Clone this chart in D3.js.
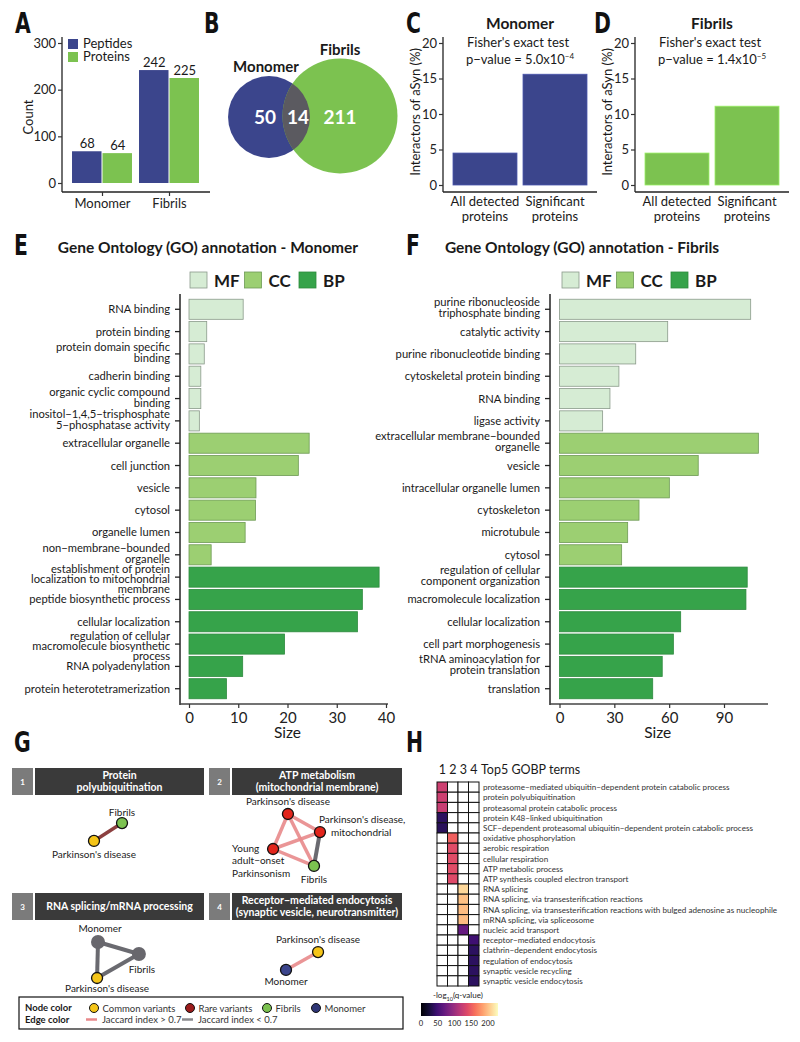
<!DOCTYPE html>
<html><head><meta charset="utf-8">
<script src="https://cdn.jsdelivr.net/npm/d3@7"></script>
<style>body{margin:0;background:#fff}svg{display:block}</style>
</head><body><svg id="c" width="800" height="1042"></svg>
<script>
// ---------------- DATA ----------------
const countCategories = ["Monomer", "Fibrils"];
const countSeries = ["Peptides", "Proteins"];
const peptideCounts = [68, 242];
const proteinCounts = [64, 225];
const countTicks = [0, 100, 200, 300];

const vennSets = ["Monomer", "Fibrils"];
const vennSetTotals = [64, 225];
const vennRegionCounts = [50, 14, 211]; // monomer only, shared, fibrils only

const interactorCategories = [["All detected", "proteins"], ["Significant", "proteins"]];
const monomerInteractorPct = [4.5, 15.6];
const fibrilInteractorPct = [4.5, 11.1];
const interactorTicks = [0, 5, 10, 15, 20];
const monomerPvalue = ["5.0", "−4"];
const fibrilPvalue = ["1.4", "−5"];

const goTypes = ["MF", "CC", "BP"];
const goMonomerTerms = ["RNA binding", "protein binding", "protein domain specific\nbinding", "cadherin binding",
  "organic cyclic compound\nbinding", "inositol−1,4,5−trisphosphate\n5−phosphatase activity",
  "extracellular organelle", "cell junction", "vesicle", "cytosol", "organelle lumen",
  "non−membrane−bounded\norganelle", "establishment of protein\nlocalization to mitochondrial\nmembrane",
  "peptide biosynthetic process", "cellular localization",
  "regulation of cellular\nmacromolecule biosynthetic\nprocess", "RNA polyadenylation", "protein heterotetramerization"];
const goMonomerTypes = ["MF","MF","MF","MF","MF","MF","CC","CC","CC","CC","CC","CC","BP","BP","BP","BP","BP","BP"];
const goMonomerSizes = [11.0, 3.6, 3.1, 2.4, 2.4, 2.1, 24.4, 22.2, 13.6, 13.5, 11.4, 4.5, 38.6, 35.2, 34.2, 19.4, 10.9, 7.6];
const goMonomerTicks = [0, 10, 20, 30, 40];

const goFibrilTerms = ["purine ribonucleoside\ntriphosphate binding", "catalytic activity", "purine ribonucleotide binding",
  "cytoskeletal protein binding", "RNA binding", "ligase activity", "extracellular membrane−bounded\norganelle",
  "vesicle", "intracellular organelle lumen", "cytoskeleton", "microtubule", "cytosol",
  "regulation of cellular\ncomponent organization", "macromolecule localization", "cellular localization",
  "cell part morphogenesis", "tRNA aminoacylation for\nprotein translation", "translation"];
const goFibrilTypes = ["MF","MF","MF","MF","MF","MF","CC","CC","CC","CC","CC","CC","BP","BP","BP","BP","BP","BP"];
const goFibrilSizes = [104.6, 59.2, 41.7, 32.5, 27.6, 23.6, 108.8, 75.9, 60.1, 43.5, 37.3, 34.0, 102.7, 102.0, 66.3, 62.3, 56.2, 51.0];
const goFibrilTicks = [0, 30, 60, 90];

// Network clusters (G)
const clusterTitles = [["Protein", "polyubiquitination"], ["ATP metabolism", "(mitochondrial membrane)"],
  ["RNA splicing/mRNA processing"], ["Receptor−mediated endocytosis", "(synaptic vesicle, neurotransmitter)"]];
const clusterIds = ["1", "2", "3", "4"];
const net1Nodes = ["Fibrils", "Parkinson's disease"];
const net1Types = ["fibrils", "common"];
const net1Edges = [[0, 1, "dark"]];
const net2Nodes = ["Parkinson's disease", "Parkinson's disease,\nmitochondrial", "Young\nadult−onset\nParkinsonism", "Fibrils"];
const net2Types = ["rare", "rare", "rare", "fibrils"];
const net2Edges = [[0, 1, "high"], [0, 2, "high"], [0, 3, "high"], [2, 1, "high"], [2, 3, "high"], [1, 3, "low"]];
const net3Nodes = ["Monomer", "Fibrils", "Parkinson's disease"];
const net3Types = ["grey", "grey", "common"];
const net3Edges = [[0, 1, "low"], [1, 2, "low"], [0, 2, "low"]];
const net4Nodes = ["Parkinson's disease", "Monomer"];
const net4Types = ["common", "monomer"];
const net4Edges = [[0, 1, "high"]];
const legendNodeTypes = ["Common variants", "Rare variants", "Fibrils", "Monomer"];
const legendEdgeTypes = ["Jaccard index > 0.7", "Jaccard index < 0.7"];

// Heatmap (H)
const heatColumns = [1, 2, 3, 4];
const heatTerms = ["proteasome−mediated ubiquitin−dependent protein catabolic process", "protein polyubiquitination",
  "proteasomal protein catabolic process", "protein K48−linked ubiquitination",
  "SCF−dependent proteasomal ubiquitin−dependent protein catabolic process", "oxidative phosphorylation",
  "aerobic respiration", "cellular respiration", "ATP metabolic process", "ATP synthesis coupled electron transport",
  "RNA splicing", "RNA splicing, via transesterification reactions",
  "RNA splicing, via transesterification reactions with bulged adenosine as nucleophile",
  "mRNA splicing, via spliceosome", "nucleic acid transport", "receptor−mediated endocytosis",
  "clathrin−dependent endocytosis", "regulation of endocytosis", "synaptic vesicle recycling", "synaptic vesicle endocytosis"];
const heatTermCluster = [1,1,1,1,1,2,2,2,2,2,3,3,3,3,3,4,4,4,4,4];
const heatValues = [128,128,125,38,36,152,140,140,140,138,212,200,198,198,70,48,38,38,38,38];
const heatTicks = [0, 50, 100, 150, 200];

// ---------------- LAYOUT / STYLE ----------------
const FONT = "Lato, 'Open Sans', sans-serif";
const LETTER_FONT = "'DejaVu Sans Condensed', 'DejaVu Sans', sans-serif";
const NAVY = "#3b458c", GREEN = "#7cc250";
const goFill = {MF: "#d6ecd4", CC: "#9ccf72", BP: "#36a34a"};
const goStroke = {MF: "#8a9a8a", CC: "#6e9a55", BP: "#2d8a3e"};

const svg = d3.select("#c").attr("font-family", FONT);

function letter(t, x, y) {
  svg.append("text").attr("transform", `translate(${x},${y}) scale(0.78,1)`)
    .attr("font-family", LETTER_FONT).attr("font-weight", "bold").attr("font-size", 29).attr("fill", "#111").text(t);
}
function txt(g, x, y, s, size, opts = {}) {
  const t = g.append("text").attr("x", x).attr("y", y).attr("font-size", size).attr("fill", opts.fill || "#1a1a1a")
    .attr("text-anchor", opts.anchor || "start").text(s);
  if (opts.bold) t.attr("font-weight", "bold");
  return t;
}
function styleAxis(g, size) {
  g.select(".domain").remove();
  g.selectAll(".tick line").attr("stroke", "#333").attr("stroke-width", 1.2);
  g.selectAll(".tick text").attr("font-size", size).attr("fill", "#222").attr("font-family", FONT);
}

// ---------------- A ----------------
letter("A", 15, 33);
{
  const g = svg.append("g");
  const y = d3.scaleLinear().domain([0, 300]).range([183, 43]);
  const x = d3.scaleBand().domain(countCategories).range([69, 203]).paddingInner(0.09).paddingOuter(0.045);
  const xs = d3.scaleBand().domain(countSeries).range([0, x.bandwidth()]);
  const col = d3.scaleOrdinal().domain(countSeries).range([NAVY, GREEN]);
  countCategories.forEach((c, i) => {
    [peptideCounts[i], proteinCounts[i]].forEach((v, j) => {
      const s = countSeries[j];
      g.append("rect").attr("x", x(c) + xs(s)).attr("y", y(v)).attr("width", xs.bandwidth() - 1)
        .attr("height", y(0) - y(v)).attr("fill", col(s));
      txt(g, x(c) + xs(s) + xs.bandwidth() / 2, y(v) - 3, v, 13, {anchor: "middle"});
    });
  });
  g.append("line").attr("x1", 62).attr("x2", 62).attr("y1", 37).attr("y2", 192).attr("stroke", "#222").attr("stroke-width", 1.3);
  g.append("line").attr("x1", 62).attr("x2", 210).attr("y1", 192).attr("y2", 192).attr("stroke", "#222").attr("stroke-width", 1.3);
  g.append("g").attr("transform", "translate(62,0)").call(d3.axisLeft(y).tickValues(countTicks).tickSize(4).tickPadding(2)).call(a => styleAxis(a, 13));
  g.append("g").attr("transform", "translate(0,192)").call(d3.axisBottom(x).tickSize(4).tickPadding(3)).call(a => styleAxis(a, 13));
  txt(g, 0, 0, "Count", 13, {anchor: "middle"}).attr("transform", "translate(33,117) rotate(-90)");
  countSeries.forEach((s, i) => {
    g.append("rect").attr("x", 68).attr("y", 39 + i * 13).attr("width", 10).attr("height", 10).attr("fill", col(s));
    txt(g, 83, 48 + i * 13, s, 13);
  });
}

// ---------------- B ----------------
letter("B", 204, 33);
{
  const g = svg.append("g");
  const r = d3.scalePow().exponent(0.27).domain([0, d3.max(vennSetTotals)]).range([0, 57.5]);
  const cx = [269, 340], cy = [117, 116];
  const rs = vennSetTotals.map(r);
  g.append("circle").attr("cx", cx[0]).attr("cy", cy[0]).attr("r", rs[0]).attr("fill", NAVY);
  g.append("circle").attr("cx", cx[1]).attr("cy", cy[1]).attr("r", rs[1]).attr("fill", GREEN);
  svg.append("clipPath").attr("id", "mclip").append("circle").attr("cx", cx[0]).attr("cy", cy[0]).attr("r", rs[0]);
  g.append("circle").attr("cx", cx[1]).attr("cy", cy[1]).attr("r", rs[1]).attr("fill", "#5b5a60").attr("clip-path", "url(#mclip)");
  txt(g, 266, 72, vennSets[0], 15, {anchor: "middle", bold: true});
  txt(g, 340, 55, vennSets[1], 15, {anchor: "middle", bold: true});
  const lx = [265, 298, 340];
  vennRegionCounts.forEach((v, i) => txt(g, lx[i], 124, v, 19, {anchor: "middle", bold: true, fill: "#fff"}));
}

// ---------------- C / D ----------------
function interactorPanel(x0, values, color, title, pval) {
  const g = svg.append("g");
  const y = d3.scaleLinear().domain([0, 20]).range([185, 43]);
  const x = d3.scaleBand().domain([0, 1]).range([x0 + 5, x0 + 149]).paddingInner(0.086).paddingOuter(0.0714);
  values.forEach((v, i) => {
    g.append("rect").attr("x", x(i)).attr("y", y(v)).attr("width", x.bandwidth()).attr("height", y(0) - y(v))
      .attr("fill", color).attr("stroke", d3.color(color).brighter(0.6)).attr("stroke-width", 0.8);
    interactorCategories[i].forEach((l, k) => txt(g, x(i) + x.bandwidth() / 2, 206 + k * 15, l, 13, {anchor: "middle"}));
  });
  g.append("line").attr("x1", x0).attr("x2", x0).attr("y1", 37).attr("y2", 192).attr("stroke", "#222").attr("stroke-width", 1.3);
  g.append("line").attr("x1", x0).attr("x2", x0 + 154).attr("y1", 192).attr("y2", 192).attr("stroke", "#222").attr("stroke-width", 1.3);
  g.append("g").attr("transform", `translate(${x0},0)`).call(d3.axisLeft(y).tickValues(interactorTicks).tickSize(4).tickPadding(2)).call(a => styleAxis(a, 13));
  txt(g, 0, 0, "Interactors of aSyn (%)", 13, {anchor: "middle"}).attr("transform", `translate(${x0 - 23},112) rotate(-90)`);
  txt(g, x0 + 77, 29, title, 15.5, {anchor: "middle", bold: true});
  txt(g, x0 + 75, 47, "Fisher's exact test", 13, {anchor: "middle"});
  const t = txt(g, x0 + 77, 64, "p−value = " + pval[0] + "x10", 13, {anchor: "middle"});
  t.append("tspan").attr("dy", -5).attr("font-size", 8).text(pval[1]);
}
letter("C", 406, 33);
interactorPanel(443, monomerInteractorPct, NAVY, "Monomer", monomerPvalue);
letter("D", 594, 33);
interactorPanel(635, fibrilInteractorPct, GREEN, "Fibrils", fibrilPvalue);

// ---------------- E / F ----------------
function goPanel(opt) {
  const g = svg.append("g");
  const idx = d3.range(opt.terms.length);
  const y = d3.scaleBand().domain(idx).range([297, 701]).paddingInner(0.1).paddingOuter(0.1);
  const x = d3.scaleLinear().domain(opt.domain).range(opt.range);
  txt(g, opt.titleX, 253, opt.title, 15.5, {anchor: "middle", bold: true});
  goTypes.forEach((t, i) => {
    const lx = opt.legendX + i * 54.5;
    g.append("rect").attr("x", lx).attr("y", 272).attr("width", 17).attr("height", 16).attr("fill", goFill[t]).attr("stroke", goStroke[t]).attr("stroke-width", 0.8);
    txt(g, lx + 24, 287, t, 17, {bold: true});
  });
  idx.forEach(i => {
    const tp = opt.types[i];
    g.append("rect").attr("x", x(0)).attr("y", y(i)).attr("width", x(opt.sizes[i]) - x(0)).attr("height", y.bandwidth())
      .attr("fill", goFill[tp]).attr("stroke", goStroke[tp]).attr("stroke-width", 0.8);
    const lines = opt.terms[i].split("\n");
    const cy = y(i) + y.bandwidth() / 2;
    // line centres: single on the band centre, 2-line slightly raised, 3-line slightly lowered
    const first = lines.length === 1 ? cy : lines.length === 2 ? cy - 7 : cy - 8;
    const sp = lines.length > 2 ? 10 : 11;
    lines.forEach((l, k) => {
      txt(g, opt.axisX - 10, first + k * sp + 4, l, 11.2, {anchor: "end"});
    });
    g.append("line").attr("x1", opt.axisX - 5).attr("x2", opt.axisX).attr("y1", cy).attr("y2", cy).attr("stroke", "#222").attr("stroke-width", 1.3);
  });
  g.append("line").attr("x1", opt.axisX).attr("x2", opt.axisX).attr("y1", 294).attr("y2", 705).attr("stroke", "#222").attr("stroke-width", 1.5);
  g.append("line").attr("x1", opt.axisX).attr("x2", opt.axisEnd).attr("y1", 704).attr("y2", 704).attr("stroke", "#444").attr("stroke-width", 1.5);
  g.append("g").attr("transform", "translate(0,704)").call(d3.axisBottom(x).tickValues(opt.ticks).tickSize(4).tickPadding(4)).call(a => styleAxis(a, 15));
  txt(g, (opt.range[0] + opt.range[1]) / 2 + opt.sizeDx, 738, "Size", 15.5, {anchor: "middle"});
}
letter("E", 14, 255);
goPanel({terms: goMonomerTerms, types: goMonomerTypes, sizes: goMonomerSizes, ticks: goMonomerTicks,
  domain: [0, 40], range: [189, 386], axisX: 180, axisEnd: 388, title: "Gene Ontology (GO) annotation - Monomer",
  titleX: 208, legendX: 190, sizeDx: 0});
letter("F", 406, 255);
goPanel({terms: goFibrilTerms, types: goFibrilTypes, sizes: goFibrilSizes, ticks: goFibrilTicks,
  domain: [0, 90], range: [559.5, 724], axisX: 550, axisEnd: 768, title: "Gene Ontology (GO) annotation - Fibrils",
  titleX: 582, legendX: 562, sizeDx: 16});

// ---------------- G ----------------
letter("G", 14, 752);
const nodeFill = {fibrils: "#7cc250", common: "#f5c518", rare: "#e2241b", monomer: "#3b458c", grey: "#68676d"};
const nodeR = {fibrils: 5.5, common: 5.5, rare: 5.5, monomer: 5.5, grey: 7};
const edgeStyle = {high: ["#e8898b", 3.5], low: ["#6a6a70", 4], dark: ["#8c4040", 3.5]};
// quadrant frames: header top (hy), content box (x, y, w, h)
const quads = [{x: 12, hy: 768, y: 795, w: 192, h: 98}, {x: 209, hy: 768, y: 795, w: 193, h: 98},
  {x: 12, hy: 893, y: 920, w: 192, h: 77}, {x: 209, hy: 893, y: 920, w: 193, h: 77}];
// node layout (relative 0..1 inside each quadrant's content box)
const netLayouts = [
  [[0.573, 0.286], [0.427, 0.469]],
  [[0.409, 0.194], [0.575, 0.378], [0.332, 0.551], [0.544, 0.724]],
  [[0.448, 0.286], [0.661, 0.442], [0.443, 0.753]],
  [[0.565, 0.416], [0.399, 0.649]]
];
// label placement: [dx, dy, anchor]
const netLabels = [
  [[0, -7, "middle"], [0, 17, "middle"]],
  [[0, -9, "middle"], [-1, -9, "start"], [-41, 3, "start"], [0, 17, "middle"]],
  [[2, -10, "middle"], [3, 19, "middle"], [10, 14, "middle"]],
  [[0, -9, "middle"], [0, 15, "middle"]]
];
const nets = [[net1Nodes, net1Types, net1Edges], [net2Nodes, net2Types, net2Edges], [net3Nodes, net3Types, net3Edges], [net4Nodes, net4Types, net4Edges]];
nets.forEach(([nodes, types, edges], q) => {
  const Q = quads[q];
  const g = svg.append("g");
  g.append("rect").attr("x", Q.x).attr("y", Q.hy).attr("width", 21).attr("height", 27).attr("fill", "#7b7b7b");
  g.append("rect").attr("x", Q.x + 23).attr("y", Q.hy).attr("width", Q.w - 23).attr("height", 27).attr("fill", "#3a3a3a");
  txt(g, Q.x + 10.5, Q.hy + 17, clusterIds[q], 8, {anchor: "middle", bold: true, fill: "#fff"});
  const tl = clusterTitles[q];
  tl.forEach((l, k) => txt(g, Q.x + 23 + (Q.w - 23) / 2, Q.hy + 17 + (k - (tl.length - 1) / 2) * 12, l, 10.5, {anchor: "middle", bold: true, fill: "#fff"}));
  const sx = d3.scaleLinear().domain([0, 1]).range([Q.x, Q.x + Q.w]);
  const sy = d3.scaleLinear().domain([0, 1]).range([Q.y, Q.y + Q.h]);
  const L = netLayouts[q];
  edges.forEach(([a, b, t]) => {
    g.append("line").attr("x1", sx(L[a][0])).attr("y1", sy(L[a][1])).attr("x2", sx(L[b][0])).attr("y2", sy(L[b][1]))
      .attr("stroke", edgeStyle[t][0]).attr("stroke-width", edgeStyle[t][1]).attr("stroke-opacity", t === "high" ? 0.9 : 1);
  });
  nodes.forEach((n, i) => {
    const t = types[i];
    g.append("circle").attr("cx", sx(L[i][0])).attr("cy", sy(L[i][1])).attr("r", nodeR[t]).attr("fill", nodeFill[t])
      .attr("stroke", t === "grey" ? "none" : "#111").attr("stroke-width", 1.3);
    const [dx, dy, anc] = netLabels[q][i];
    const lines = n.split("\n");
    lines.forEach((l, k) => {
      let xx = sx(L[i][0]) + dx, yy = sy(L[i][1]) + dy + k * 12.5;
      if (q === 1 && i === 1 && k === 1) xx += 12;
      txt(g, xx, yy, l, 10, {anchor: anc});
    });
  });
});
{
  const g = svg.append("g");
  g.append("rect").attr("x", 19).attr("y", 997).attr("width", 384).attr("height", 32).attr("fill", "none").attr("stroke", "#111").attr("stroke-width", 1.2);
  txt(g, 25, 1011, "Node color", 9.5, {bold: true});
  txt(g, 25, 1023, "Edge color", 9.5, {bold: true});
  const lnx = [94, 190, 267, 316];
  const lnf = ["common", "rare2", "fibrils", "monomer"];
  const fills = {common: "#f5c518", rare2: "#9b1c1c", fibrils: "#7cc250", monomer: "#2e3575"};
  legendNodeTypes.forEach((s, i) => {
    g.append("circle").attr("cx", lnx[i]).attr("cy", 1008).attr("r", 4.5).attr("fill", fills[lnf[i]]).attr("stroke", "#111").attr("stroke-width", 1);
    txt(g, lnx[i] + 8.5, 1011.5, s, 9.5, {fill: "#333"});
  });
  const lex = [86, 182];
  const lec = ["#e8898b", "#8a8a8e"];
  legendEdgeTypes.forEach((s, i) => {
    g.append("line").attr("x1", lex[i]).attr("x2", lex[i] + 11).attr("y1", 1019.5).attr("y2", 1019.5).attr("stroke", lec[i]).attr("stroke-width", 2.5);
    txt(g, lex[i] + 16, 1023, s, 9.5, {fill: "#333"});
  });
}

// ---------------- H ----------------
letter("H", 406, 752);
{
  const g = svg.append("g");
  const color = d3.scaleSequential(d3.interpolateMagma).domain([0, 230]);
  const x = d3.scaleBand().domain(heatColumns).range([437, 479]);
  const y = d3.scaleBand().domain(d3.range(heatTerms.length)).range([782, 986]);
  heatColumns.forEach(c => txt(g, x(c) + x.bandwidth() / 2, 774, c, 12.5, {anchor: "middle"}));
  txt(g, 481, 774, "Top5 GOBP terms", 12.5);
  heatTerms.forEach((t, i) => {
    heatColumns.forEach(c => {
      g.append("rect").attr("x", x(c)).attr("y", y(i)).attr("width", x.bandwidth()).attr("height", y.bandwidth())
        .attr("fill", c === heatTermCluster[i] ? color(heatValues[i]) : "#fff").attr("stroke", "#111").attr("stroke-width", 1);
    });
    txt(g, 483, y(i) + y.bandwidth() / 2 + 3, t, 8.1, {fill: "#333"});
  });
  const cb = d3.scaleLinear().domain([0, 230]).range([421, 498]);
  const grad = svg.append("defs").append("linearGradient").attr("id", "magma");
  d3.range(0, 1.01, 0.1).forEach(t => grad.append("stop").attr("offset", t).attr("stop-color", d3.interpolateMagma(t)));
  g.append("rect").attr("x", cb(0)).attr("y", 1003).attr("width", cb(230) - cb(0)).attr("height", 13).attr("fill", "url(#magma)");
  const lt = txt(g, 433, 998, "-log", 8, {fill: "#222"});
  lt.append("tspan").attr("dy", 2.5).attr("font-size", 5.5).text("10");
  lt.append("tspan").attr("dy", -2.5).text("(q-value)");
  heatTicks.forEach(v => txt(g, cb(v), 1026, v, 7.6, {anchor: "middle", fill: "#222"}));
}
</script></body></html>
